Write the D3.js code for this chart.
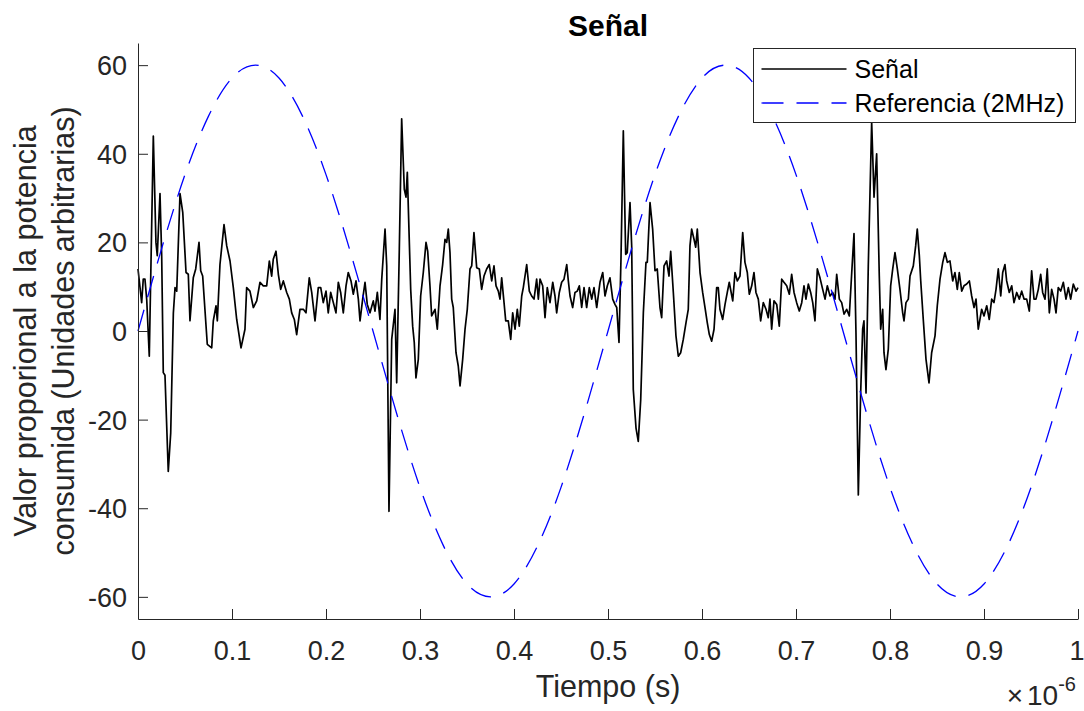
<!DOCTYPE html>
<html>
<head>
<meta charset="utf-8">
<script src="https://cdn.jsdelivr.net/npm/d3@7"></script>
<style>
  body { margin: 0; background: #fff; }
  text { font-family: "Liberation Sans", Arial, Helvetica, sans-serif; fill: #262626; }
</style>
</head>
<body>
<div id="viz-container"></div>
<script>
// time in ns, value in arbitrary units
var signalT = [0, 3.9, 5.6, 7.4, 9.3, 12.0, 16.3, 19.1, 20.5, 23.4, 25.2, 26.9, 28.7, 32.2, 34.8, 37.6, 39.4, 41.2,
  44.7, 47.6, 51.1, 53.5, 55.3, 58.8, 61.4, 64.9, 66.7, 68.8, 73.7, 78.4, 80.1, 83.0, 84.4, 87.2, 91.5, 94.4, 97.9,
  101.4, 105.0, 109.6, 113.8, 115.6, 119.1, 122.7, 126.3, 129.8, 133.3, 136.9, 139.7, 142.2, 143.9, 146.8, 149.3,
  151.8, 154.6, 158.2, 161.0, 163.5, 166.3, 168.8, 172.3, 175.9, 178.7, 182.2, 184.8, 188.3, 191.8, 194.4, 197.1,
  200.0, 202.4, 205.0, 207.8, 210.6, 213.1, 215.6, 218.4, 221.3, 223.7, 226.6, 229.0, 231.9, 234.4, 236.2, 239.0,
  241.5, 243.9, 246.8, 250.3, 252.1, 254.6, 257.4, 259.3, 262.8, 264.6, 267.0, 269.9, 273.4, 275.2, 278.0, 280.5,
  283.3, 285.1, 286.5, 290.1, 292.2, 293.9, 295.7, 298.2, 300.7, 303.5, 306.4, 308.2, 310.6, 312.4, 316.0, 318.4,
  321.3, 324.1, 326.6, 328.4, 330.1, 331.9, 333.7, 335.4, 338.3, 340.7, 342.6, 345.4, 347.9, 350.3, 353.2, 355.0,
  357.4, 360.3, 363.1, 365.6, 368.1, 370.9, 373.7, 376.3, 378.7, 380.9, 383.3, 385.1, 386.9, 389.4, 391.2, 393.9,
  396.5, 398.6, 401.1, 403.5, 405.6, 408.2, 409.9, 413.5, 416.3, 418.8, 421.3, 424.1, 425.9, 427.7, 430.5, 433.0,
  435.4, 438.3, 441.2, 443.6, 445.4, 448.2, 450.7, 453.2, 456.1, 457.8, 459.6, 462.4, 464.9, 467.3, 469.5, 472.0,
  474.5, 477.3, 480.1, 482.7, 485.1, 488.0, 491.5, 494.4, 496.8, 499.3, 502.1, 505.0, 507.4, 509.3, 511.7, 513.8,
  516.3, 518.8, 520.5, 523.4, 525.2, 526.9, 529.8, 532.2, 534.8, 537.6, 540.4, 541.8, 544.7, 547.5, 550.0, 552.4,
  555.3, 557.1, 559.6, 562.4, 564.9, 566.7, 569.5, 572.3, 574.8, 577.3, 580.1, 583.0, 585.4, 587.2, 589.0, 591.5,
  593.3, 595.0, 597.9, 600.7, 603.2, 605.6, 607.8, 610.3, 612.8, 615.6, 617.3, 619.1, 622.0, 624.5, 626.9, 629.0,
  632.7, 635.1, 637.6, 640.4, 643.3, 645.7, 648.2, 650.3, 652.9, 655.3, 657.4, 659.9, 662.4, 665.2, 668.1, 670.5,
  672.3, 674.1, 676.6, 679.5, 682.2, 684.8, 687.2, 690.1, 692.9, 695.4, 697.9, 700.7, 703.5, 706.1, 708.5, 710.6,
  713.1, 715.6, 717.8, 720.2, 722.7, 725.5, 728.4, 730.9, 733.3, 736.2, 739.0, 741.5, 743.3, 746.1, 748.6, 751.1,
  753.9, 756.7, 759.3, 761.7, 763.8, 766.3, 768.8, 770.9, 772.3, 774.5, 776.9, 780.5, 783.0, 785.8, 788.6, 790.1,
  792.2, 793.6, 795.7, 798.2, 800.7, 802.9, 805.3, 807.8, 810.6, 813.5, 814.9, 817.0, 819.5, 821.3, 824.8, 827.3,
  829.0, 831.2, 832.7, 835.4, 838.3, 841.5, 844.3, 847.9, 850.3, 853.2, 856.1, 858.5, 861.0, 863.8, 866.7, 869.1,
  871.6, 873.7, 876.3, 878.7, 881.6, 884.4, 886.9, 889.4, 891.5, 893.9, 897.5, 900.0, 902.9, 905.6, 908.2, 910.6,
  912.8, 915.2, 917.8, 919.9, 922.3, 924.1, 926.9, 929.5, 931.9, 934.8, 937.6, 940.1, 942.6, 945.4, 948.2, 950.7,
  953.2, 955.3, 957.8, 960.3, 962.4, 964.9, 967.3, 969.5, 972.0, 974.5, 976.6, 979.0, 981.6, 984.4, 987.2, 989.7,
  992.2, 995.0, 997.9, 1000.0];

var signalV = [14, 6.4, 11.7, 11.7, 7, -5.7, 44, 20, 17, 31, 17, -9.4, -10, -31.7, -23, 4, 9.8, 9,
  31, 26.8, 13.2, 12.8, 2.3, 12, 14, 20, 13.6, 12.4, -3, -3.8, 2.3, 5.7, 2.3, 15, 24, 19.2, 15.8,
  9.8, 2.6, -3.8, 0.4, 9.8, 9, 5.3, 6.8, 11, 10.2, 10.2, 15.8, 12.4, 16.2, 18, 12.8,
  9.4, 11.3, 8.7, 7.2, 4.1, 2.6, -0.8, 4.9, 4.9, 4.1, 12, 8.7, 2.3, 9.8, 9.8, 6.4,
  9, 4.1, 8.7, 6.4, 4.1, 11, 8.7, 4.1, 10.2, 13.2, 11.3, 8.3, 11.3, 7.2, 2.3, 7.2,
  11, 6, 4.1, 6.8, 4.5, 8.7, 2.6, 11.7, 23, 14.7, -40.7, -1.9, 4.9, -11.7, 18.5, 47.9,
  32, 30.2, 35.8, 9.4, 1.1, -2.6, -10.6, -6.4, 7.9, 13.2, 20, 18, 10.2, 3.4, 4.9, 0.4,
  10.2, 15, 20.7, 20, 23, 17.7, 7.2, 5.3, -4.9, -7.9, -12.4, -6.4, 0.4, 4.9, 14, 14.7,
  22.2, 14.3, 14, 9.4, 12.4, 14, 15, 11.3, 14.7, 10.2, 9, 7.2, 12, 6.4, 2.3, 2.3,
  -1.9, 4.1, 0.4, 4.9, 1.1, 7.9, 9.8, 15, 9, 7.9, 7.2, 11.7, 7.2, 11.7, 10.2, 3,
  9.8, 6.4, 11, 7.9, 4.1, 8.7, 11, 11.7, 15, 11.3, 7.9, 5.3, 8.7, 9, 10.2, 5.3,
  9.8, 5.3, 9.8, 7.2, 9.8, 5.3, 11, 13.2, 7.9, 10.2, 12, 7.2, 6, 5.3, -2.6, 16.2,
  45.2, 17.3, 17.7, 29, 19.2, -13.2, -21.9, -24.9, -15.5, 4.1, 15.5, 15.5, 29, 23, 13.6, 14,
  5.3, 3, 14.7, 15.8, 12.4, 18, 8.7, -1.1, -5.7, -4.9, -1.9, 1.9, 4.9, 19.2, 23, 20.7,
  18.9, 23, 13.2, 8.7, 5.3, 1.9, -0.8, -2.3, 0.4, 9.8, 9.8, 4.9, 2.6, 6, 8.7, 11,
  6.8, 13.2, 11.3, 12.4, 22.2, 15.5, 13.2, 8.3, 10.2, 13.2, 8.7, 7.2, 2.3, 6.4, 4.9, 3,
  7.2, 0.4, 6.8, 6, 1.1, 11.7, 11, 10.2, 8.3, 12.8, 8.7, 6.4, 4.5, 6.4, 10.2, 7.2,
  10.6, 8.7, 6.4, 2.3, 14, 12, 9.4, 7.2, 10.2, 7.9, 8.7, 7.2, 12.8, 7.2, 6.4, 3.8,
  4.9, 3.4, 13.2, 22, -0.4, -37, -14, 0.4, 2.3, -14, 14.7, 47.1, 30.2, 40, 12.4, 0.4,
  4.9, -4.9, -8.7, -4.1, 10.2, 14, 17.7, 14, 9.4, 4.1, 2.3, 6.4, 7.2, 12.4, 14.7, 19.2,
  23, 17, 11.3, 2.6, -6.4, -11.7, -4.9, -1.1, 5.7, 11.7, 15.5, 17.7, 15.5, 15.8, 11.3, 13.2,
  9.4, 13.2, 9, 10.2, 10.6, 11.3, 7.9, 5.3, 7.2, 0.4, 4.9, 3.4, 5.7, 2.6, 7.2, 6.4,
  9.4, 14, 7.9, 13.2, 15, 11.3, 8.7, 10.2, 6.4, 8.7, 7.2, 9, 7.2, 7.2, 4.5, 13.6,
  7.2, 7.2, 9.4, 12.8, 8.7, 7.2, 14, 4.1, 9.4, 7.2, 4.1, 9.8, 9, 11, 7.2, 9.8,
  7.2, 10.6, 9, 9.8];

// reference, sampled every 25 ns
var refT = [0, 25, 50, 75, 100, 125, 150, 175, 200, 225, 250, 275, 300, 325, 350, 375, 400, 425, 450, 475,
  500, 525, 550, 575, 600, 625, 650, 675, 700, 725, 750, 775, 800, 825, 850, 875, 900, 925, 950, 975, 1000];
var refV = [0, 18.5, 35.3, 48.5, 57.1, 60, 57.1, 48.5, 35.3, 18.5, 0, -18.5, -35.3, -48.5, -57.1, -60, -57.1, -48.5, -35.3, -18.5,
  0, 18.5, 35.3, 48.5, 57.1, 60, 57.1, 48.5, 35.3, 18.5, 0, -18.5, -35.3, -48.5, -57.1, -60, -57.1, -48.5, -35.3, -18.5, 0];

var xTicks = [0, 0.1e-6, 0.2e-6, 0.3e-6, 0.4e-6, 0.5e-6, 0.6e-6, 0.7e-6, 0.8e-6, 0.9e-6, 1e-6];
var xTickLabels = ["0", "0.1", "0.2", "0.3", "0.4", "0.5", "0.6", "0.7", "0.8", "0.9", "1"];
var yTicks = [-60, -40, -20, 0, 20, 40, 60];
var yTickLabels = ["-60", "-40", "-20", "0", "20", "40", "60"];
var seriesNames = ["Señal", "Referencia (2MHz)"];

var margin = {top: 43, right: 6, bottom: 92, left: 138},
    width = 1084 - margin.left - margin.right,
    height = 711 - margin.top - margin.bottom;

var axisColor = "#262626";

var signal = signalT.map(function(t, i) { return {t: t * 1e-9, v: signalV[i]}; });
var ref = refT.map(function(t, i) { return {t: t * 1e-9, v: refV[i]}; });

var xScale = d3.scaleLinear().domain([0, 1e-6]).range([0, width]);
var yScale = d3.scaleLinear().domain([-65, 65]).range([height, 0]);

var svg = d3.select("#viz-container")
  .append("svg")
    .attr("width", 1084)
    .attr("height", 711)
    .style("display", "block");

svg.append("rect").attr("width", 1084).attr("height", 711).attr("fill", "#fff");

var g = svg.append("g")
    .attr("transform", "translate(" + margin.left + "," + margin.top + ")");

var line = d3.line()
    .x(function(d) { return xScale(d.t); })
    .y(function(d) { return yScale(d.v); });

// signal
g.append("path")
    .datum(signal)
    .attr("fill", "none")
    .attr("stroke", "#000")
    .attr("stroke-width", 1.7)
    .attr("stroke-linejoin", "round")
    .attr("d", line);

// reference sine
g.append("path")
    .datum(ref)
    .attr("fill", "none")
    .attr("stroke", "#0000ff")
    .attr("stroke-width", 1.3)
    .attr("stroke-dasharray", "22,13")
    .attr("d", line.curve(d3.curveNatural));

// axes
var xAxis = d3.axisBottom(xScale)
    .tickValues(xTicks)
    .tickFormat(function(d, i) { return xTickLabels[i]; })
    .tickSizeInner(-10)
    .tickSizeOuter(0)
    .tickPadding(22);

var yAxis = d3.axisLeft(yScale)
    .tickValues(yTicks)
    .tickFormat(function(d, i) { return yTickLabels[i]; })
    .tickSizeInner(-10)
    .tickSizeOuter(0)
    .tickPadding(11);

var gx = g.append("g")
    .attr("transform", "translate(0," + height + ")")
    .call(xAxis);
var gy = g.append("g").call(yAxis);

[gx, gy].forEach(function(a) {
  a.select(".domain").attr("stroke", axisColor);
  a.selectAll(".tick line").attr("stroke", axisColor);
  a.selectAll(".tick text")
    .attr("fill", axisColor)
    .style("font-size", "27px")
    .attr("font-family", null);
  a.attr("font-family", null).attr("font-size", null);
});
gy.selectAll(".tick text").attr("dy", "0.35em");
// last label sits on the figure edge, nudge it in a little
gx.selectAll(".tick text").filter(function(d, i) { return i === xTicks.length - 1; }).attr("dx", -1.5);

// exponent label
var expo = g.append("text")
    .attr("x", width - 2)
    .attr("y", height + 86)
    .attr("text-anchor", "end")
    .style("font-size", "28px");
expo.append("tspan").text("×");
expo.append("tspan").attr("dx", 4).text("10");
expo.append("tspan").attr("dy", -14).style("font-size", "20px").text("-6");

// title
svg.append("text")
    .attr("x", margin.left + width / 2)
    .attr("y", 36)
    .attr("text-anchor", "middle")
    .style("font-size", "30px")
    .style("font-weight", "bold")
    .style("fill", "#000")
    .text("Señal");

// x label
g.append("text")
    .attr("x", width / 2)
    .attr("y", height + 78)
    .attr("text-anchor", "middle")
    .style("font-size", "30.5px")
    .text("Tiempo (s)");

// y label (two lines)
var ylab = [["Valor proporional a la potencia", 36], ["consumida (Unidades arbitrarias)", 74]];
ylab.forEach(function(l) {
  svg.append("text")
      .attr("transform", "translate(" + l[1] + "," + (margin.top + height / 2) + ") rotate(-90)")
      .attr("text-anchor", "middle")
      .style("font-size", "30.5px")
      .text(l[0]);
});

// legend
var legend = svg.append("g").attr("transform", "translate(753.5,48.5)");
legend.append("rect")
    .attr("width", 322)
    .attr("height", 74)
    .attr("fill", "#fff")
    .attr("stroke", axisColor)
    .attr("stroke-width", 1);

var legendStyle = [
  {color: "#000", dash: null, w: 1.5},
  {color: "#0000ff", dash: "22,13", w: 1.3}
];
seriesNames.forEach(function(name, i) {
  var yy = 20.5 + i * 34;
  legend.append("line")
      .attr("x1", 8).attr("x2", 93)
      .attr("y1", yy).attr("y2", yy)
      .attr("stroke", legendStyle[i].color)
      .attr("stroke-width", legendStyle[i].w)
      .attr("stroke-dasharray", legendStyle[i].dash);
  legend.append("text")
      .attr("x", 101)
      .attr("y", yy)
      .attr("dy", "0.35em")
      .style("font-size", "25px")
      .style("fill", "#000")
      .text(name);
});
</script>
</body>
</html>
